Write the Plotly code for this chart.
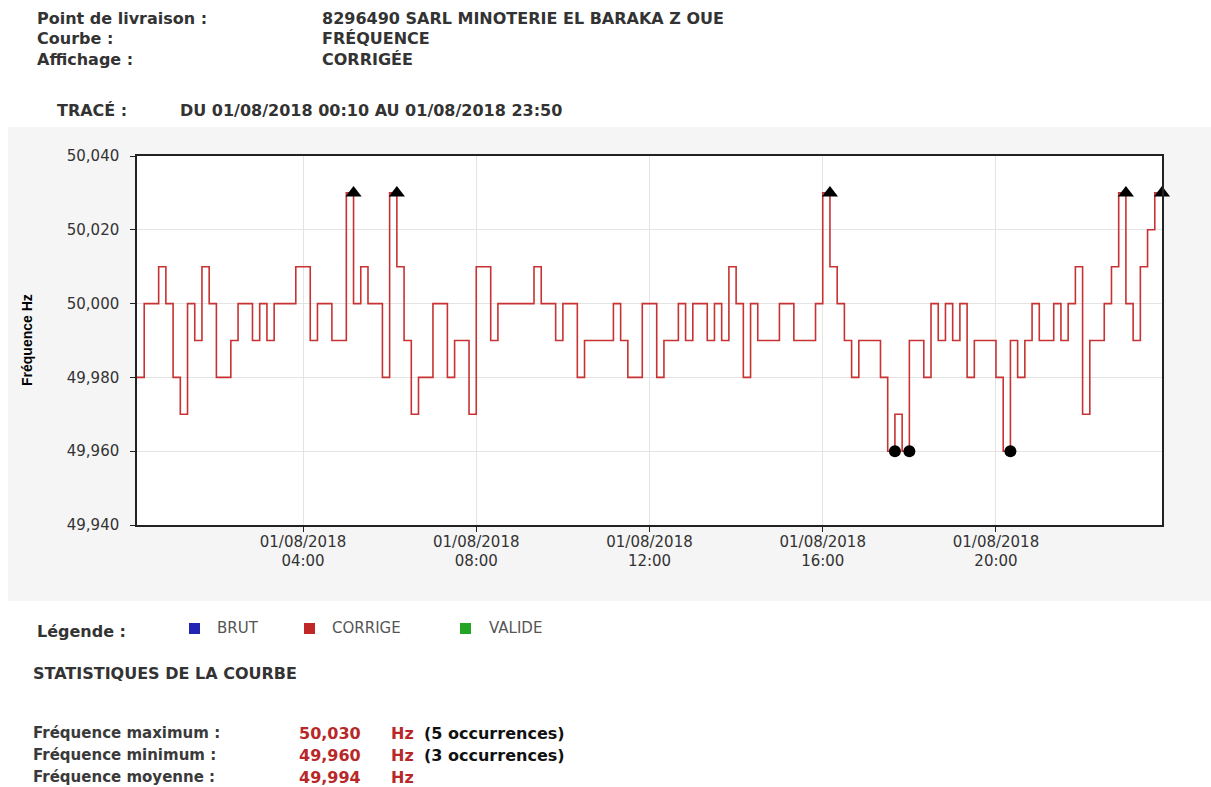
import pandas as pd
import plotly.graph_objects as go

# ---- data ----
times = pd.date_range("2018-08-01 00:10", "2018-08-01 23:50", freq="10min")
freq = [49.98, 49.98, 50.00, 50.00, 50.01, 50.00, 49.98, 49.97, 50.00, 49.99,
        50.01, 50.00, 49.98, 49.98, 49.99, 50.00, 50.00, 49.99, 50.00, 49.99,
        50.00, 50.00, 50.00, 50.01, 50.01, 49.99, 50.00, 50.00, 49.99, 49.99,
        50.03, 50.00, 50.01, 50.00, 50.00, 49.98, 50.03, 50.01, 49.99, 49.97,
        49.98, 49.98, 50.00, 50.00, 49.98, 49.99, 49.99, 49.97, 50.01, 50.01,
        49.99, 50.00, 50.00, 50.00, 50.00, 50.00, 50.01, 50.00, 50.00, 49.99,
        50.00, 50.00, 49.98, 49.99, 49.99, 49.99, 49.99, 50.00, 49.99, 49.98,
        49.98, 50.00, 50.00, 49.98, 49.99, 49.99, 50.00, 49.99, 50.00, 50.00,
        49.99, 50.00, 49.99, 50.01, 50.00, 49.98, 50.00, 49.99, 49.99, 49.99,
        50.00, 50.00, 49.99, 49.99, 49.99, 50.00, 50.03, 50.01, 50.00, 49.99,
        49.98, 49.99, 49.99, 49.99, 49.98, 49.96, 49.97, 49.96, 49.99, 49.99,
        49.98, 50.00, 49.99, 50.00, 49.99, 50.00, 49.98, 49.99, 49.99, 49.99,
        49.98, 49.96, 49.99, 49.98, 49.99, 50.00, 49.99, 49.99, 50.00, 49.99,
        50.00, 50.01, 49.97, 49.99, 49.99, 50.00, 50.01, 50.03, 50.00, 49.99,
        50.01, 50.02, 50.03]

x_tick_vals = ["2018-08-01 04:00", "2018-08-01 08:00", "2018-08-01 12:00",
               "2018-08-01 16:00", "2018-08-01 20:00"]
x_tick_text = ["01/08/2018<br>04:00", "01/08/2018<br>08:00", "01/08/2018<br>12:00",
               "01/08/2018<br>16:00", "01/08/2018<br>20:00"]

header_labels = ["Point de livraison :", "Courbe :", "Affichage :"]
header_values = ["8296490 SARL MINOTERIE EL BARAKA Z OUE", "FRÉQUENCE", "CORRIGÉE"]
legend_names = ["BRUT", "CORRIGE", "VALIDE"]
legend_colors = ["#2424b4", "#c02828", "#24a424"]
stat_labels = ["Fréquence maximum :", "Fréquence minimum :", "Fréquence moyenne :"]
stat_values = ["50,030", "49,960", "49,994"]
stat_notes = ["(5 occurrences)", "(3 occurrences)", ""]

LINE_RED = "#c83232"
STAT_RED = "#b82828"
TXT = "#333333"

# ---- geometry helpers (pixel -> paper) ----
W, H = 1211, 787
L, R, T, B = 137, 1162, 156, 525


def px(x):
    return (x - L) / (R - L)


def py(y):
    return (B - y) / (B - T)


fmax, fmin = max(freq), min(freq)
max_x = [t for t, v in zip(times, freq) if v == fmax]
max_y = [v for v in freq if v == fmax]
min_x = [t for t, v in zip(times, freq) if v == fmin]
min_y = [v for v in freq if v == fmin]

fig = go.Figure()
fig.add_trace(go.Scatter(x=times, y=freq, mode="lines",
                         line=dict(color=LINE_RED, width=1.6, shape="vh"),
                         showlegend=False, hoverinfo="x+y"))
fig.add_trace(go.Scatter(x=max_x, y=max_y, mode="markers",
                         marker=dict(symbol="triangle-up", size=14, color="black"),
                         showlegend=False, cliponaxis=False))
fig.add_trace(go.Scatter(x=min_x, y=min_y, mode="markers",
                         marker=dict(symbol="circle", size=12, color="black"),
                         showlegend=False, cliponaxis=False))

shapes = [
    dict(type="rect", xref="paper", yref="paper", layer="below",
         x0=px(8), x1=px(W + 5), y0=py(601), y1=py(127),
         fillcolor="#f5f5f5", line=dict(width=0)),
    dict(type="rect", xref="paper", yref="paper", layer="below",
         x0=0, x1=1, y0=0, y1=1, fillcolor="white", line=dict(width=0)),
]

annotations = []


def text(x, y, s, size, color=TXT, bold=True, family="DejaVu Sans", anchor="left"):
    annotations.append(dict(
        x=px(x), y=py(y), xref="paper", yref="paper", text=s, showarrow=False,
        xanchor=anchor, yanchor="middle",
        font=dict(family=family, size=size, color=color,
                  weight="bold" if bold else "normal")))


for i, (lab, val) in enumerate(zip(header_labels, header_values)):
    yy = 18 + i * 20.5
    text(35, yy, lab, 16)
    text(320, yy, val, 16)

text(55, 111, "TRACÉ :", 16)
text(178, 111, "DU 01/08/2018 00:10 AU 01/08/2018 23:50", 16)

# y-axis title
annotations.append(dict(x=px(27), y=py(340), xref="paper", yref="paper",
                        text="Fréquence Hz", textangle=-90, showarrow=False,
                        xanchor="center", yanchor="middle",
                        font=dict(family="Liberation Sans", size=14, color="black",
                                  weight="bold")))

# legend row
text(35, 631, "Légende :", 16)
leg_sq_x = [189, 304, 460]
leg_txt_x = [215, 330, 487]
for sx, tx, name, col in zip(leg_sq_x, leg_txt_x, legend_names, legend_colors):
    shapes.append(dict(type="rect", xref="paper", yref="paper",
                       x0=px(sx), x1=px(sx + 11), y0=py(634), y1=py(623),
                       fillcolor=col, line=dict(width=0)))
    text(tx, 628, name, 15, color="#555555", bold=False)

text(31, 673, "STATISTIQUES DE LA COURBE", 16)

for i, (lab, val, note) in enumerate(zip(stat_labels, stat_values, stat_notes)):
    yy = 733 + i * 22
    text(31, yy, lab, 15, color="#3a3a3a")
    text(297, yy, val, 16, color=STAT_RED)
    text(389, yy, "Hz", 16, color=STAT_RED)
    if note:
        text(422, yy, note, 16, color="#111111")

fig.update_layout(
    width=W, height=H,
    margin=dict(l=L, r=W - R, t=T, b=H - B, pad=0),
    paper_bgcolor="white", plot_bgcolor="white",
    separators=", ",
    shapes=shapes, annotations=annotations,
    showlegend=False,
    font=dict(family="DejaVu Sans", color=TXT),
)
fig.update_xaxes(
    type="date", range=["2018-08-01 00:10", "2018-08-01 23:50"],
    tickmode="array", tickvals=x_tick_vals, ticktext=x_tick_text,
    ticks="outside", ticklen=5, tickcolor="#222222", ticklabelstandoff=-3,
    showgrid=True, gridcolor="#e4e4e4", gridwidth=1,
    showline=True, linecolor="#222222", linewidth=1.5, mirror=True,
    tickfont=dict(family="DejaVu Sans", size=15, color=TXT),
    zeroline=False, fixedrange=True,
)
fig.update_yaxes(
    range=[49.94, 50.04], tick0=49.94, dtick=0.02, tickformat=".3f",
    ticks="outside", ticklen=5, tickcolor="#222222", ticklabelstandoff=8,
    showgrid=True, gridcolor="#e4e4e4", gridwidth=1,
    showline=True, linecolor="#222222", linewidth=1.5, mirror=True,
    tickfont=dict(family="DejaVu Sans", size=15, color=TXT),
    zeroline=False, fixedrange=True,
)

fig.write_html("out.html", config={"displayModeBar": False},
               post_script="document.body.style.margin='0';")
